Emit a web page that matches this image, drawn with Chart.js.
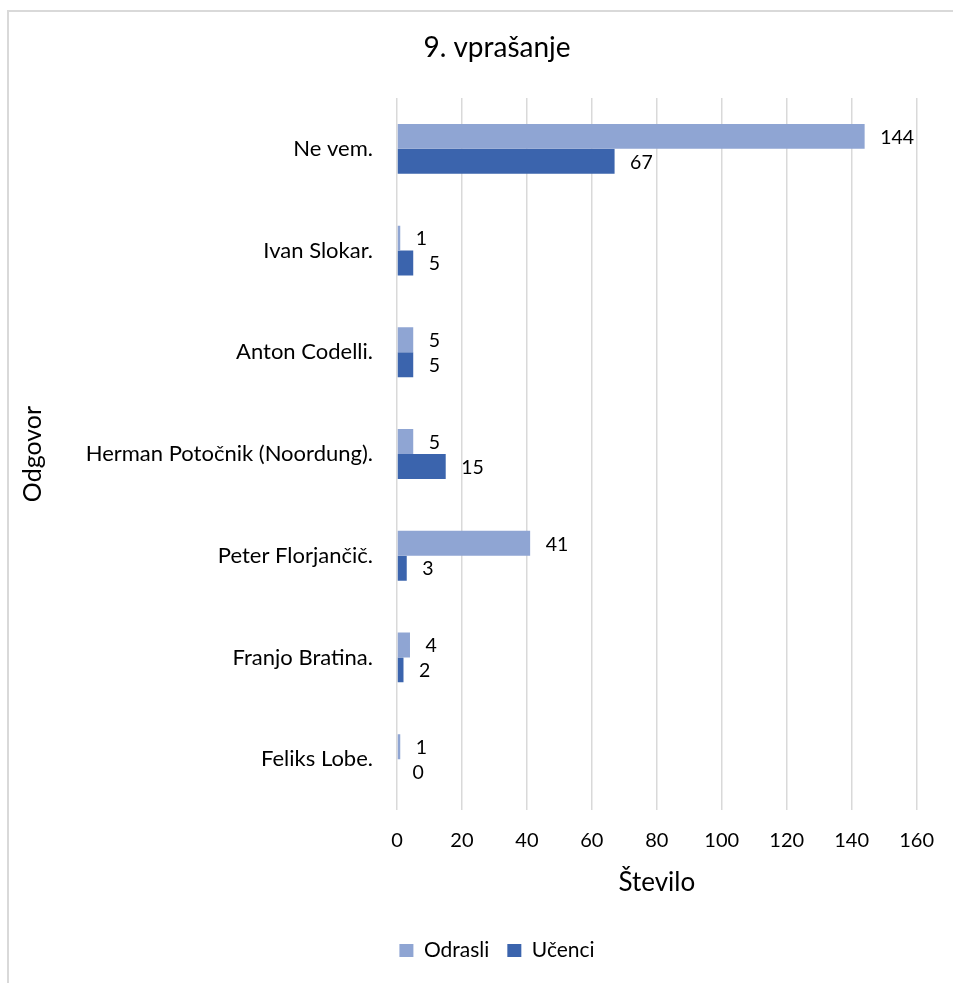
<!DOCTYPE html>
<html>
<head>
<meta charset="utf-8">
<script src="https://cdn.jsdelivr.net/npm/chart.js@4/dist/chart.umd.min.js"></script>
<style>
  html, body { margin: 0; padding: 0; background: #fff; }
  #wrap { position: relative; width: 953px; height: 983px; }
  #frame { position: absolute; left: 7px; top: 10px; right: 0; bottom: 0;
           border-left: 2px solid #d9d9d9; border-top: 2px solid #d9d9d9; }
  #c { position: absolute; left: 0; top: 0; }
</style>
</head>
<body>
<div id="wrap">
  <div id="frame"></div>
  <canvas id="c" width="953" height="983"></canvas>
</div>
<script>
// Odgovori na 9. vprašanje
const categories = [
  'Ne vem.',
  'Ivan Slokar.',
  'Anton Codelli.',
  'Herman Potočnik (Noordung).',
  'Peter Florjančič.',
  'Franjo Bratina.',
  'Feliks Lobe.'
];
const odrasli = [144, 1, 5, 5, 41, 4, 1];
const ucenci  = [67, 5, 5, 15, 3, 2, 0];
const xTicks  = [0, 20, 40, 60, 80, 100, 120, 140, 160];

const FONT = 'Lato';
const TEXT = '#000000';
const PAD_LEFT = 71.5;
const PLOT_LEFT = 397;

// value labels to the right of each bar
const barValueLabels = {
  id: 'barValueLabels',
  afterDatasetsDraw(chart) {
    const ctx = chart.ctx;
    ctx.save();
    ctx.font = '19.5px ' + FONT;
    ctx.fillStyle = TEXT;
    ctx.textAlign = 'left';
    ctx.textBaseline = 'middle';
    chart.data.datasets.forEach((ds, di) => {
      chart.getDatasetMeta(di).data.forEach((bar, i) => {
        ctx.fillText(String(ds.data[i]), bar.x + 15.5, bar.y + 1);
      });
    });
    ctx.restore();
  }
};

new Chart(document.getElementById('c'), {
  type: 'bar',
  data: {
    labels: categories,
    datasets: [
      { label: 'Odrasli', data: odrasli, backgroundColor: '#8FA5D3' },
      { label: 'Učenci', data: ucenci, backgroundColor: '#3B64AD' }
    ]
  },
  options: {
    indexAxis: 'y',
    responsive: false,
    animation: false,
    devicePixelRatio: 1,
    layout: { padding: { left: PAD_LEFT, right: 30.5, top: 0, bottom: 12 } },
    datasets: { bar: { categoryPercentage: 0.49, barPercentage: 1.0 } },
    plugins: {
      title: {
        display: true,
        text: '9. vprašanje',
        color: TEXT,
        font: { family: FONT, size: 28, weight: 'normal' },
        padding: { top: 31.2, bottom: 33.2 }
      },
      legend: {
        position: 'bottom',
        labels: {
          color: TEXT,
          font: { family: FONT, size: 21 },
          boxWidth: 14,
          boxHeight: 13,
          padding: 18
        }
      },
      tooltip: { enabled: false }
    },
    scales: {
      x: {
        type: 'linear',
        min: 0,
        max: 160,
        afterBuildTicks(scale) { scale.ticks = xTicks.map(v => ({ value: v })); },
        afterFit(scale) { scale.height = 112; },
        grid: { color: '#d9d9d9', lineWidth: 1.5, drawTicks: false },
        border: { display: false },
        ticks: { color: TEXT, font: { family: FONT, size: 20 }, padding: 19, maxRotation: 0 },
        title: {
          display: true,
          text: 'Število',
          color: TEXT,
          font: { family: FONT, size: 26 },
          padding: { top: 0, bottom: 24 }
        }
      },
      y: {
        type: 'category',
        afterFit(scale) { scale.width = PLOT_LEFT - PAD_LEFT; },
        grid: { display: false, drawTicks: false },
        border: { display: false },
        ticks: { color: TEXT, font: { family: FONT, size: 22 }, padding: 24 },
        title: {
          display: true,
          text: 'Odgovor',
          color: TEXT,
          font: { family: FONT, size: 25 },
          padding: { top: -53.5, bottom: 0 }
        }
      }
    }
  },
  plugins: [barValueLabels]
});
</script>
</body>
</html>
